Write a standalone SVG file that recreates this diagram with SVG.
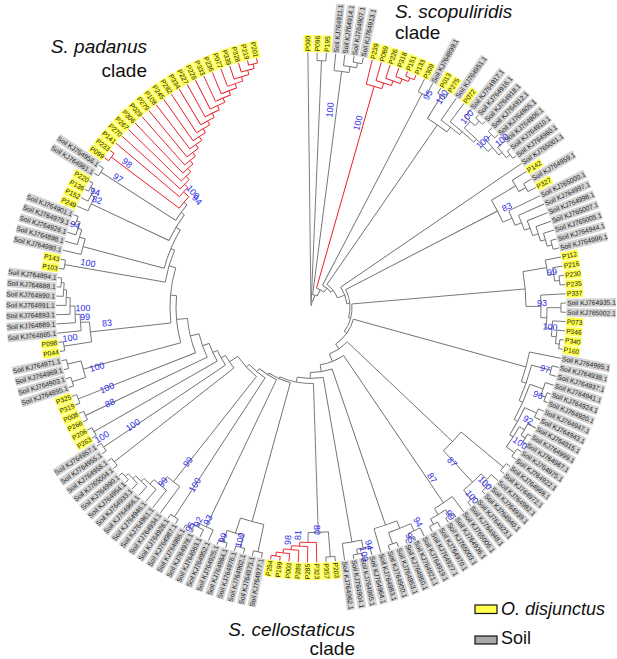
<svg xmlns="http://www.w3.org/2000/svg" xmlns:xlink="http://www.w3.org/1999/xlink" width="617" height="659" viewBox="0 0 617 659">
<style>
.c path,.c circle{fill:none;stroke:#6f6f6f;stroke-width:0.9}
.c .r{stroke:#ea1c24}
.t text{font-family:"Liberation Sans",Arial,sans-serif;font-size:6.7px;fill:#1a1a1a}
.t .e{text-anchor:end}
.b text{font-family:"Liberation Sans",Arial,sans-serif;font-size:9px;fill:#2b2be8;text-anchor:middle;dominant-baseline:central}
.h{font-family:"Liberation Sans",Arial,sans-serif;font-size:19px;fill:#111}
.i{font-style:italic}
</style>
<defs>
<rect id="pR" fill="#ffff4d" x="255.5" y="-4.3" width="17" height="8.6"/>
<rect id="sR" fill="#d4d4d4" x="255.5" y="-4.3" width="49.5" height="8.6"/>
<rect id="pL" fill="#ffff4d" x="-272.5" y="-4.3" width="17" height="8.6"/>
<rect id="sL" fill="#d4d4d4" x="-305" y="-4.3" width="49.5" height="8.6"/>
</defs>
<rect width="617" height="659" fill="#fff"/>
<g id="tree" transform="translate(311 307.5)">
<g id="connectors" class="c">
<path d="M2 0H255" transform="rotate(-90.7)"/>
<circle r="2" pathLength="360" stroke-dasharray="10.73 999" transform="rotate(-90.7)"/>
<path d="M2 0H7" transform="rotate(-79.97)"/>
<circle r="7" pathLength="360" stroke-dasharray="15.2 999" transform="rotate(-87.57)"/>
<path d="M7 0H247" transform="rotate(-87.57)"/>
<path d="M7 0H13" transform="rotate(-72.37)"/>
<circle r="247" pathLength="360" stroke-dasharray="2.08 999" transform="rotate(-88.61)"/>
<path d="M247 0H255" transform="rotate(-88.61)"/>
<path d="M247 0H255" transform="rotate(-86.53)"/>
<circle r="13" pathLength="360" stroke-dasharray="20.5 999" transform="rotate(-82.62)"/>
<path d="M13 0H238" transform="rotate(-82.62)"/>
<path d="M13 0H20" transform="rotate(-62.12)"/>
<circle r="249" pathLength="360" stroke-dasharray="2.09 999" transform="rotate(-80.27)"/>
<path d="M249 0H255" transform="rotate(-80.27)"/>
<path d="M249 0H255" transform="rotate(-78.18)"/>
<circle r="244" pathLength="360" stroke-dasharray="3.13 999" transform="rotate(-82.36)"/>
<path d="M244 0H255" transform="rotate(-82.36)"/>
<path d="M244 0H249" transform="rotate(-79.23)"/>
<circle r="238" pathLength="360" stroke-dasharray="3.64 999" transform="rotate(-84.44)"/>
<path d="M238 0H255" transform="rotate(-84.44)"/>
<path d="M238 0H244" transform="rotate(-80.8)"/>
<circle r="20" pathLength="360" stroke-dasharray="23.93 999" transform="rotate(-74.08)"/>
<path class="r" d="M20 0H230" transform="rotate(-74.08)"/>
<path d="M20 0H25" transform="rotate(-50.15)"/>
<circle class="r" r="250" pathLength="360" stroke-dasharray="2.08 999" transform="rotate(-67.75)"/>
<path class="r" d="M250 0H255" transform="rotate(-67.75)"/>
<path class="r" d="M250 0H255" transform="rotate(-65.67)"/>
<circle class="r" r="246" pathLength="360" stroke-dasharray="3.13 999" transform="rotate(-69.84)"/>
<path class="r" d="M246 0H255" transform="rotate(-69.84)"/>
<path class="r" d="M246 0H250" transform="rotate(-66.71)"/>
<circle class="r" r="241" pathLength="360" stroke-dasharray="3.65 999" transform="rotate(-71.93)"/>
<path class="r" d="M241 0H255" transform="rotate(-71.93)"/>
<path class="r" d="M241 0H246" transform="rotate(-68.28)"/>
<circle class="r" r="236" pathLength="360" stroke-dasharray="3.91 999" transform="rotate(-74.01)"/>
<path class="r" d="M236 0H255" transform="rotate(-74.01)"/>
<path class="r" d="M236 0H241" transform="rotate(-70.1)"/>
<circle class="r" r="230" pathLength="360" stroke-dasharray="4.04 999" transform="rotate(-76.1)"/>
<path class="r" d="M230 0H255" transform="rotate(-76.1)"/>
<path class="r" d="M230 0H236" transform="rotate(-72.06)"/>
<circle r="25" pathLength="360" stroke-dasharray="24.78 999" transform="rotate(-62.54)"/>
<path d="M25 0H241" transform="rotate(-62.54)"/>
<path d="M25 0H28" transform="rotate(-37.76)"/>
<circle r="241" pathLength="360" stroke-dasharray="2.08 999" transform="rotate(-63.58)"/>
<path d="M241 0H255" transform="rotate(-63.58)"/>
<path d="M241 0H255" transform="rotate(-61.5)"/>
<circle r="28" pathLength="360" stroke-dasharray="35.13 999" transform="rotate(-55.32)"/>
<path d="M28 0H222" transform="rotate(-55.32)"/>
<path d="M28 0H36" transform="rotate(-20.19)"/>
<circle r="222" pathLength="360" stroke-dasharray="6.1 999" transform="rotate(-58.37)"/>
<path d="M222 0H249" transform="rotate(-58.37)"/>
<path d="M222 0H228" transform="rotate(-52.27)"/>
<circle r="249" pathLength="360" stroke-dasharray="2.09 999" transform="rotate(-59.41)"/>
<path d="M249 0H255" transform="rotate(-59.41)"/>
<path d="M249 0H255" transform="rotate(-57.32)"/>
<circle r="228" pathLength="360" stroke-dasharray="5.94 999" transform="rotate(-55.24)"/>
<path d="M228 0H255" transform="rotate(-55.24)"/>
<path d="M228 0H232" transform="rotate(-49.3)"/>
<circle r="232" pathLength="360" stroke-dasharray="7.69 999" transform="rotate(-53.15)"/>
<path d="M232 0H255" transform="rotate(-53.15)"/>
<path d="M232 0H236" transform="rotate(-45.46)"/>
<circle r="236" pathLength="360" stroke-dasharray="8.08 999" transform="rotate(-49.5)"/>
<path d="M236 0H245" transform="rotate(-49.5)"/>
<path d="M236 0H242" transform="rotate(-41.42)"/>
<circle r="245" pathLength="360" stroke-dasharray="3.13 999" transform="rotate(-51.07)"/>
<path d="M245 0H255" transform="rotate(-51.07)"/>
<path d="M245 0H251" transform="rotate(-47.94)"/>
<circle r="251" pathLength="360" stroke-dasharray="2.09 999" transform="rotate(-48.98)"/>
<path d="M251 0H255" transform="rotate(-48.98)"/>
<path d="M251 0H255" transform="rotate(-46.89)"/>
<circle r="242" pathLength="360" stroke-dasharray="4.7 999" transform="rotate(-43.77)"/>
<path d="M242 0H250" transform="rotate(-43.77)"/>
<path d="M242 0H246" transform="rotate(-39.07)"/>
<circle r="250" pathLength="360" stroke-dasharray="2.09 999" transform="rotate(-44.81)"/>
<path d="M250 0H255" transform="rotate(-44.81)"/>
<path d="M250 0H255" transform="rotate(-42.72)"/>
<circle r="246" pathLength="360" stroke-dasharray="3.13 999" transform="rotate(-40.64)"/>
<path d="M246 0H255" transform="rotate(-40.64)"/>
<path d="M246 0H251" transform="rotate(-37.51)"/>
<circle r="251" pathLength="360" stroke-dasharray="2.09 999" transform="rotate(-38.55)"/>
<path d="M251 0H255" transform="rotate(-38.55)"/>
<path d="M251 0H255" transform="rotate(-36.46)"/>
<circle r="36" pathLength="360" stroke-dasharray="28.38 999" transform="rotate(-34.38)"/>
<path d="M36 0H255" transform="rotate(-34.38)"/>
<path d="M36 0H39" transform="rotate(-6)"/>
<circle r="39" pathLength="360" stroke-dasharray="42.73 999" transform="rotate(-27.36)"/>
<path d="M39 0H210" transform="rotate(-27.36)"/>
<path d="M39 0H41" transform="rotate(15.37)"/>
<circle r="210" pathLength="360" stroke-dasharray="6.75 999" transform="rotate(-30.73)"/>
<path d="M210 0H238" transform="rotate(-30.73)"/>
<path d="M210 0H220" transform="rotate(-23.98)"/>
<circle r="238" pathLength="360" stroke-dasharray="3.12 999" transform="rotate(-32.29)"/>
<path d="M238 0H255" transform="rotate(-32.29)"/>
<path d="M238 0H246" transform="rotate(-29.17)"/>
<circle r="246" pathLength="360" stroke-dasharray="2.09 999" transform="rotate(-30.21)"/>
<path d="M246 0H255" transform="rotate(-30.21)"/>
<path d="M246 0H255" transform="rotate(-28.12)"/>
<circle r="220" pathLength="360" stroke-dasharray="4.1 999" transform="rotate(-26.03)"/>
<path d="M220 0H255" transform="rotate(-26.03)"/>
<path d="M220 0H227" transform="rotate(-21.93)"/>
<circle r="227" pathLength="360" stroke-dasharray="4.04 999" transform="rotate(-23.95)"/>
<path d="M227 0H255" transform="rotate(-23.95)"/>
<path d="M227 0H233" transform="rotate(-19.91)"/>
<circle r="233" pathLength="360" stroke-dasharray="3.9 999" transform="rotate(-21.86)"/>
<path d="M233 0H255" transform="rotate(-21.86)"/>
<path d="M233 0H239" transform="rotate(-17.96)"/>
<circle r="239" pathLength="360" stroke-dasharray="3.65 999" transform="rotate(-19.78)"/>
<path d="M239 0H255" transform="rotate(-19.78)"/>
<path d="M239 0H244" transform="rotate(-16.13)"/>
<circle r="244" pathLength="360" stroke-dasharray="3.13 999" transform="rotate(-17.69)"/>
<path d="M244 0H255" transform="rotate(-17.69)"/>
<path d="M244 0H249" transform="rotate(-14.56)"/>
<circle r="249" pathLength="360" stroke-dasharray="2.08 999" transform="rotate(-15.6)"/>
<path d="M249 0H255" transform="rotate(-15.6)"/>
<path d="M249 0H255" transform="rotate(-13.52)"/>
<circle r="41" pathLength="360" stroke-dasharray="40.63 999" transform="rotate(-4.95)"/>
<path d="M41 0H215" transform="rotate(-4.95)"/>
<path d="M41 0H44" transform="rotate(35.68)"/>
<circle r="215" pathLength="360" stroke-dasharray="9.32 999" transform="rotate(-9.61)"/>
<path d="M215 0H239" transform="rotate(-9.61)"/>
<path d="M215 0H230" transform="rotate(-0.29)"/>
<circle r="239" pathLength="360" stroke-dasharray="3.64 999" transform="rotate(-11.43)"/>
<path d="M239 0H255" transform="rotate(-11.43)"/>
<path d="M239 0H245" transform="rotate(-7.79)"/>
<circle r="245" pathLength="360" stroke-dasharray="3.13 999" transform="rotate(-9.35)"/>
<path d="M245 0H255" transform="rotate(-9.35)"/>
<path d="M245 0H250" transform="rotate(-6.22)"/>
<circle r="250" pathLength="360" stroke-dasharray="2.09 999" transform="rotate(-7.26)"/>
<path d="M250 0H255" transform="rotate(-7.26)"/>
<path d="M250 0H255" transform="rotate(-5.17)"/>
<circle r="230" pathLength="360" stroke-dasharray="5.61 999" transform="rotate(-3.09)"/>
<path d="M230 0H255" transform="rotate(-3.09)"/>
<path d="M230 0H236" transform="rotate(2.52)"/>
<circle r="236" pathLength="360" stroke-dasharray="4.96 999" transform="rotate(0.04)"/>
<path d="M236 0H250" transform="rotate(0.04)"/>
<path d="M236 0H242" transform="rotate(5)"/>
<circle r="250" pathLength="360" stroke-dasharray="2.08 999" transform="rotate(-1)"/>
<path d="M250 0H255" transform="rotate(-1)"/>
<path d="M250 0H255" transform="rotate(1.08)"/>
<circle r="242" pathLength="360" stroke-dasharray="3.66 999" transform="rotate(3.17)"/>
<path d="M242 0H255" transform="rotate(3.17)"/>
<path d="M242 0H247" transform="rotate(6.83)"/>
<circle r="247" pathLength="360" stroke-dasharray="3.13 999" transform="rotate(5.26)"/>
<path d="M247 0H255" transform="rotate(5.26)"/>
<path d="M247 0H251" transform="rotate(8.39)"/>
<circle r="251" pathLength="360" stroke-dasharray="2.09 999" transform="rotate(7.34)"/>
<path d="M251 0H255" transform="rotate(7.34)"/>
<path d="M251 0H255" transform="rotate(9.43)"/>
<circle r="44" pathLength="360" stroke-dasharray="40.46 999" transform="rotate(15.45)"/>
<path d="M44 0H223" transform="rotate(15.45)"/>
<path d="M44 0H50" transform="rotate(55.91)"/>
<circle r="223" pathLength="360" stroke-dasharray="7.87 999" transform="rotate(11.51)"/>
<path d="M223 0H255" transform="rotate(11.51)"/>
<path d="M223 0H228" transform="rotate(19.38)"/>
<circle r="228" pathLength="360" stroke-dasharray="9.45 999" transform="rotate(14.65)"/>
<path d="M228 0H248" transform="rotate(14.65)"/>
<path d="M228 0H232" transform="rotate(24.1)"/>
<circle r="248" pathLength="360" stroke-dasharray="2.09 999" transform="rotate(13.6)"/>
<path d="M248 0H255" transform="rotate(13.6)"/>
<path d="M248 0H255" transform="rotate(15.69)"/>
<circle r="232" pathLength="360" stroke-dasharray="9.52 999" transform="rotate(19.34)"/>
<path d="M232 0H246" transform="rotate(19.34)"/>
<path d="M232 0H236" transform="rotate(28.86)"/>
<circle r="246" pathLength="360" stroke-dasharray="3.13 999" transform="rotate(17.77)"/>
<path d="M246 0H255" transform="rotate(17.77)"/>
<path d="M246 0H251" transform="rotate(20.9)"/>
<circle r="251" pathLength="360" stroke-dasharray="2.08 999" transform="rotate(19.86)"/>
<path d="M251 0H255" transform="rotate(19.86)"/>
<path d="M251 0H255" transform="rotate(21.94)"/>
<circle r="236" pathLength="360" stroke-dasharray="7.56 999" transform="rotate(25.08)"/>
<path d="M236 0H249" transform="rotate(25.08)"/>
<path d="M236 0H240" transform="rotate(32.64)"/>
<circle r="249" pathLength="360" stroke-dasharray="2.09 999" transform="rotate(24.03)"/>
<path d="M249 0H255" transform="rotate(24.03)"/>
<path d="M249 0H255" transform="rotate(26.12)"/>
<circle r="240" pathLength="360" stroke-dasharray="5.74 999" transform="rotate(29.77)"/>
<path d="M240 0H246" transform="rotate(29.77)"/>
<path d="M240 0H250" transform="rotate(35.51)"/>
<circle r="246" pathLength="360" stroke-dasharray="3.13 999" transform="rotate(28.2)"/>
<path d="M246 0H255" transform="rotate(28.2)"/>
<path d="M246 0H251" transform="rotate(31.33)"/>
<circle r="251" pathLength="360" stroke-dasharray="2.08 999" transform="rotate(30.29)"/>
<path d="M251 0H255" transform="rotate(30.29)"/>
<path d="M251 0H255" transform="rotate(32.37)"/>
<circle r="250" pathLength="360" stroke-dasharray="2.09 999" transform="rotate(34.46)"/>
<path d="M250 0H255" transform="rotate(34.46)"/>
<path d="M250 0H255" transform="rotate(36.55)"/>
<circle r="50" pathLength="360" stroke-dasharray="24.9 999" transform="rotate(43.46)"/>
<path d="M50 0H195" transform="rotate(43.46)"/>
<path d="M50 0H58" transform="rotate(68.36)"/>
<circle r="195" pathLength="360" stroke-dasharray="7.56 999" transform="rotate(39.68)"/>
<path d="M195 0H250" transform="rotate(39.68)"/>
<path d="M195 0H238" transform="rotate(47.24)"/>
<circle r="250" pathLength="360" stroke-dasharray="2.09 999" transform="rotate(38.63)"/>
<path d="M250 0H255" transform="rotate(38.63)"/>
<path d="M250 0H255" transform="rotate(40.72)"/>
<circle r="238" pathLength="360" stroke-dasharray="5.74 999" transform="rotate(44.37)"/>
<path d="M238 0H246" transform="rotate(44.37)"/>
<path d="M238 0H250" transform="rotate(50.11)"/>
<circle r="246" pathLength="360" stroke-dasharray="3.14 999" transform="rotate(42.8)"/>
<path d="M246 0H255" transform="rotate(42.8)"/>
<path d="M246 0H251" transform="rotate(45.94)"/>
<circle r="251" pathLength="360" stroke-dasharray="2.09 999" transform="rotate(44.89)"/>
<path d="M251 0H255" transform="rotate(44.89)"/>
<path d="M251 0H255" transform="rotate(46.98)"/>
<circle r="250" pathLength="360" stroke-dasharray="2.09 999" transform="rotate(49.06)"/>
<path d="M250 0H255" transform="rotate(49.06)"/>
<path d="M250 0H255" transform="rotate(51.15)"/>
<circle r="58" pathLength="360" stroke-dasharray="25.03 999" transform="rotate(55.84)"/>
<path d="M58 0H236" transform="rotate(55.84)"/>
<path d="M58 0H65" transform="rotate(80.87)"/>
<circle r="236" pathLength="360" stroke-dasharray="5.22 999" transform="rotate(53.23)"/>
<path d="M236 0H255" transform="rotate(53.23)"/>
<path d="M236 0H243" transform="rotate(58.45)"/>
<circle r="243" pathLength="360" stroke-dasharray="4.17 999" transform="rotate(56.37)"/>
<path d="M243 0H250" transform="rotate(56.37)"/>
<path d="M243 0H249" transform="rotate(60.54)"/>
<circle r="250" pathLength="360" stroke-dasharray="2.09 999" transform="rotate(55.32)"/>
<path d="M250 0H255" transform="rotate(55.32)"/>
<path d="M250 0H255" transform="rotate(57.41)"/>
<circle r="249" pathLength="360" stroke-dasharray="2.09 999" transform="rotate(59.49)"/>
<path d="M249 0H255" transform="rotate(59.49)"/>
<path d="M249 0H255" transform="rotate(61.58)"/>
<circle r="65" pathLength="360" stroke-dasharray="19.53 999" transform="rotate(71.1)"/>
<path d="M65 0H230" transform="rotate(71.1)"/>
<path d="M65 0H71" transform="rotate(90.63)"/>
<circle r="230" pathLength="360" stroke-dasharray="5.99 999" transform="rotate(68.1)"/>
<path d="M230 0H238" transform="rotate(68.1)"/>
<path d="M230 0H255" transform="rotate(74.09)"/>
<circle r="238" pathLength="360" stroke-dasharray="5.74 999" transform="rotate(65.23)"/>
<path d="M238 0H246" transform="rotate(65.23)"/>
<path d="M238 0H250" transform="rotate(70.97)"/>
<circle r="246" pathLength="360" stroke-dasharray="3.14 999" transform="rotate(63.66)"/>
<path d="M246 0H255" transform="rotate(63.66)"/>
<path d="M246 0H251" transform="rotate(66.8)"/>
<circle r="251" pathLength="360" stroke-dasharray="2.09 999" transform="rotate(65.75)"/>
<path d="M251 0H255" transform="rotate(65.75)"/>
<path d="M251 0H255" transform="rotate(67.84)"/>
<circle r="250" pathLength="360" stroke-dasharray="2.09 999" transform="rotate(69.92)"/>
<path d="M250 0H255" transform="rotate(69.92)"/>
<path d="M250 0H255" transform="rotate(72.01)"/>
<circle r="71" pathLength="360" stroke-dasharray="21.05 999" transform="rotate(80.1)"/>
<path d="M71 0H238" transform="rotate(80.1)"/>
<path d="M71 0H76" transform="rotate(101.15)"/>
<circle r="238" pathLength="360" stroke-dasharray="4.69 999" transform="rotate(77.75)"/>
<path d="M238 0H246" transform="rotate(77.75)"/>
<path d="M238 0H255" transform="rotate(82.44)"/>
<circle r="246" pathLength="360" stroke-dasharray="3.13 999" transform="rotate(76.18)"/>
<path d="M246 0H255" transform="rotate(76.18)"/>
<path d="M246 0H251" transform="rotate(79.31)"/>
<circle r="251" pathLength="360" stroke-dasharray="2.08 999" transform="rotate(78.27)"/>
<path d="M251 0H255" transform="rotate(78.27)"/>
<path d="M251 0H255" transform="rotate(80.35)"/>
<circle r="76" pathLength="360" stroke-dasharray="25.99 999" transform="rotate(88.15)"/>
<path d="M76 0H225" transform="rotate(88.15)"/>
<path d="M76 0H78" transform="rotate(114.14)"/>
<circle r="225" pathLength="360" stroke-dasharray="5.15 999" transform="rotate(85.57)"/>
<path d="M225 0H250" transform="rotate(85.57)"/>
<path d="M225 0H235" transform="rotate(90.72)"/>
<circle r="250" pathLength="360" stroke-dasharray="2.09 999" transform="rotate(84.52)"/>
<path d="M250 0H255" transform="rotate(84.52)"/>
<path d="M250 0H255" transform="rotate(86.61)"/>
<circle class="r" r="235" pathLength="360" stroke-dasharray="4.04 999" transform="rotate(88.7)"/>
<path class="r" d="M235 0H255" transform="rotate(88.7)"/>
<path class="r" d="M235 0H239" transform="rotate(92.74)"/>
<circle class="r" r="239" pathLength="360" stroke-dasharray="3.92 999" transform="rotate(90.78)"/>
<path class="r" d="M239 0H255" transform="rotate(90.78)"/>
<path class="r" d="M239 0H243" transform="rotate(94.7)"/>
<circle class="r" r="243" pathLength="360" stroke-dasharray="3.65 999" transform="rotate(92.87)"/>
<path class="r" d="M243 0H255" transform="rotate(92.87)"/>
<path class="r" d="M243 0H247" transform="rotate(96.52)"/>
<circle class="r" r="247" pathLength="360" stroke-dasharray="3.14 999" transform="rotate(94.95)"/>
<path class="r" d="M247 0H255" transform="rotate(94.95)"/>
<path class="r" d="M247 0H251" transform="rotate(98.09)"/>
<circle class="r" r="251" pathLength="360" stroke-dasharray="2.09 999" transform="rotate(97.04)"/>
<path class="r" d="M251 0H255" transform="rotate(97.04)"/>
<path class="r" d="M251 0H255" transform="rotate(99.13)"/>
<circle r="78" pathLength="360" stroke-dasharray="17.5 999" transform="rotate(105.39)"/>
<path d="M78 0H222" transform="rotate(105.39)"/>
<path d="M78 0H80" transform="rotate(122.89)"/>
<circle r="222" pathLength="360" stroke-dasharray="6.26 999" transform="rotate(102.26)"/>
<path d="M222 0H250" transform="rotate(102.26)"/>
<path d="M222 0H238" transform="rotate(108.52)"/>
<circle r="250" pathLength="360" stroke-dasharray="2.09 999" transform="rotate(101.21)"/>
<path d="M250 0H255" transform="rotate(101.21)"/>
<path d="M250 0H255" transform="rotate(103.3)"/>
<circle r="238" pathLength="360" stroke-dasharray="4.17 999" transform="rotate(106.43)"/>
<path d="M238 0H250" transform="rotate(106.43)"/>
<path d="M238 0H250" transform="rotate(110.6)"/>
<circle r="250" pathLength="360" stroke-dasharray="2.09 999" transform="rotate(105.38)"/>
<path d="M250 0H255" transform="rotate(105.38)"/>
<path d="M250 0H255" transform="rotate(107.47)"/>
<circle r="250" pathLength="360" stroke-dasharray="2.08 999" transform="rotate(109.56)"/>
<path d="M250 0H255" transform="rotate(109.56)"/>
<path d="M250 0H255" transform="rotate(111.64)"/>
<circle r="80" pathLength="360" stroke-dasharray="14.66 999" transform="rotate(115.56)"/>
<path d="M80 0H243" transform="rotate(115.56)"/>
<path d="M80 0H84" transform="rotate(130.22)"/>
<circle r="243" pathLength="360" stroke-dasharray="3.65 999" transform="rotate(113.73)"/>
<path d="M243 0H255" transform="rotate(113.73)"/>
<path d="M243 0H247" transform="rotate(117.38)"/>
<circle r="247" pathLength="360" stroke-dasharray="3.14 999" transform="rotate(115.81)"/>
<path d="M247 0H255" transform="rotate(115.81)"/>
<path d="M247 0H251" transform="rotate(118.95)"/>
<circle r="251" pathLength="360" stroke-dasharray="2.09 999" transform="rotate(117.9)"/>
<path d="M251 0H255" transform="rotate(117.9)"/>
<path d="M251 0H255" transform="rotate(119.99)"/>
<circle r="84" pathLength="360" stroke-dasharray="14.19 999" transform="rotate(123.12)"/>
<path d="M84 0H250" transform="rotate(123.12)"/>
<path d="M84 0H88" transform="rotate(137.31)"/>
<circle r="250" pathLength="360" stroke-dasharray="2.09 999" transform="rotate(122.07)"/>
<path d="M250 0H255" transform="rotate(122.07)"/>
<path d="M250 0H255" transform="rotate(124.16)"/>
<circle r="88" pathLength="360" stroke-dasharray="18.02 999" transform="rotate(128.3)"/>
<path d="M88 0H222" transform="rotate(128.3)"/>
<path d="M88 0H98" transform="rotate(146.32)"/>
<circle r="222" pathLength="360" stroke-dasharray="4.11 999" transform="rotate(126.24)"/>
<path d="M222 0H255" transform="rotate(126.24)"/>
<path d="M222 0H233" transform="rotate(130.35)"/>
<circle r="233" pathLength="360" stroke-dasharray="4.04 999" transform="rotate(128.33)"/>
<path d="M233 0H255" transform="rotate(128.33)"/>
<path d="M233 0H239" transform="rotate(132.37)"/>
<circle r="239" pathLength="360" stroke-dasharray="3.91 999" transform="rotate(130.42)"/>
<path d="M239 0H255" transform="rotate(130.42)"/>
<path d="M239 0H243" transform="rotate(134.33)"/>
<circle r="243" pathLength="360" stroke-dasharray="3.65 999" transform="rotate(132.5)"/>
<path d="M243 0H255" transform="rotate(132.5)"/>
<path d="M243 0H247" transform="rotate(136.15)"/>
<circle r="247" pathLength="360" stroke-dasharray="3.13 999" transform="rotate(134.59)"/>
<path d="M247 0H255" transform="rotate(134.59)"/>
<path d="M247 0H251" transform="rotate(137.72)"/>
<circle r="251" pathLength="360" stroke-dasharray="2.09 999" transform="rotate(136.67)"/>
<path d="M251 0H255" transform="rotate(136.67)"/>
<path d="M251 0H255" transform="rotate(138.76)"/>
<circle r="98" pathLength="360" stroke-dasharray="8.85 999" transform="rotate(141.89)"/>
<path d="M98 0H250" transform="rotate(141.89)"/>
<path d="M98 0H103" transform="rotate(150.74)"/>
<circle r="250" pathLength="360" stroke-dasharray="2.08 999" transform="rotate(140.85)"/>
<path d="M250 0H255" transform="rotate(140.85)"/>
<path d="M250 0H255" transform="rotate(142.93)"/>
<circle r="103" pathLength="360" stroke-dasharray="9.36 999" transform="rotate(146.06)"/>
<path d="M103 0H250" transform="rotate(146.06)"/>
<path d="M103 0H108" transform="rotate(155.42)"/>
<circle r="250" pathLength="360" stroke-dasharray="2.08 999" transform="rotate(145.02)"/>
<path d="M250 0H255" transform="rotate(145.02)"/>
<path d="M250 0H255" transform="rotate(147.1)"/>
<circle r="108" pathLength="360" stroke-dasharray="10.35 999" transform="rotate(150.24)"/>
<path d="M108 0H250" transform="rotate(150.24)"/>
<path d="M108 0H115" transform="rotate(160.59)"/>
<circle r="250" pathLength="360" stroke-dasharray="2.09 999" transform="rotate(149.19)"/>
<path d="M250 0H255" transform="rotate(149.19)"/>
<path d="M250 0H255" transform="rotate(151.28)"/>
<circle r="115" pathLength="360" stroke-dasharray="12.35 999" transform="rotate(154.41)"/>
<path d="M115 0H250" transform="rotate(154.41)"/>
<path d="M115 0H124" transform="rotate(166.76)"/>
<circle r="250" pathLength="360" stroke-dasharray="2.09 999" transform="rotate(153.36)"/>
<path d="M250 0H255" transform="rotate(153.36)"/>
<path d="M250 0H255" transform="rotate(155.45)"/>
<circle r="124" pathLength="360" stroke-dasharray="16.36 999" transform="rotate(158.58)"/>
<path d="M124 0H250" transform="rotate(158.58)"/>
<path d="M124 0H135" transform="rotate(174.94)"/>
<circle r="250" pathLength="360" stroke-dasharray="2.09 999" transform="rotate(157.53)"/>
<path d="M250 0H255" transform="rotate(157.53)"/>
<path d="M250 0H255" transform="rotate(159.62)"/>
<circle r="135" pathLength="360" stroke-dasharray="20.19 999" transform="rotate(164.84)"/>
<path d="M135 0H236" transform="rotate(164.84)"/>
<path d="M135 0H141" transform="rotate(185.03)"/>
<circle r="236" pathLength="360" stroke-dasharray="4.17 999" transform="rotate(162.75)"/>
<path d="M236 0H250" transform="rotate(162.75)"/>
<path d="M236 0H250" transform="rotate(166.92)"/>
<circle r="250" pathLength="360" stroke-dasharray="2.08 999" transform="rotate(161.71)"/>
<path d="M250 0H255" transform="rotate(161.71)"/>
<path d="M250 0H255" transform="rotate(163.79)"/>
<circle r="250" pathLength="360" stroke-dasharray="2.08 999" transform="rotate(165.88)"/>
<path d="M250 0H255" transform="rotate(165.88)"/>
<path d="M250 0H255" transform="rotate(167.96)"/>
<circle r="141" pathLength="360" stroke-dasharray="22.67 999" transform="rotate(173.69)"/>
<path d="M141 0H222" transform="rotate(173.69)"/>
<path d="M141 0H148" transform="rotate(196.36)"/>
<circle r="222" pathLength="360" stroke-dasharray="5.18 999" transform="rotate(171.1)"/>
<path d="M222 0H250" transform="rotate(171.1)"/>
<path d="M222 0H231" transform="rotate(176.28)"/>
<circle r="250" pathLength="360" stroke-dasharray="2.09 999" transform="rotate(170.05)"/>
<path d="M250 0H255" transform="rotate(170.05)"/>
<path d="M250 0H255" transform="rotate(172.14)"/>
<circle r="231" pathLength="360" stroke-dasharray="4.11 999" transform="rotate(174.22)"/>
<path d="M231 0H255" transform="rotate(174.22)"/>
<path d="M231 0H236" transform="rotate(178.33)"/>
<circle r="236" pathLength="360" stroke-dasharray="4.04 999" transform="rotate(176.31)"/>
<path d="M236 0H255" transform="rotate(176.31)"/>
<path d="M236 0H241" transform="rotate(180.35)"/>
<circle r="241" pathLength="360" stroke-dasharray="3.92 999" transform="rotate(178.39)"/>
<path d="M241 0H255" transform="rotate(178.39)"/>
<path d="M241 0H245" transform="rotate(182.31)"/>
<circle r="245" pathLength="360" stroke-dasharray="3.65 999" transform="rotate(180.48)"/>
<path d="M245 0H255" transform="rotate(180.48)"/>
<path d="M245 0H248" transform="rotate(184.13)"/>
<circle r="248" pathLength="360" stroke-dasharray="3.13 999" transform="rotate(182.57)"/>
<path d="M248 0H255" transform="rotate(182.57)"/>
<path d="M248 0H251" transform="rotate(185.7)"/>
<circle r="251" pathLength="360" stroke-dasharray="2.09 999" transform="rotate(184.65)"/>
<path d="M251 0H255" transform="rotate(184.65)"/>
<path d="M251 0H255" transform="rotate(186.74)"/>
<circle r="148" pathLength="360" stroke-dasharray="12.97 999" transform="rotate(189.87)"/>
<path d="M148 0H250" transform="rotate(189.87)"/>
<path d="M148 0H152" transform="rotate(202.84)"/>
<circle r="250" pathLength="360" stroke-dasharray="2.09 999" transform="rotate(188.82)"/>
<path d="M250 0H255" transform="rotate(188.82)"/>
<path d="M250 0H255" transform="rotate(190.91)"/>
<circle r="152" pathLength="360" stroke-dasharray="15.78 999" transform="rotate(194.95)"/>
<path d="M152 0H236" transform="rotate(194.95)"/>
<path d="M152 0H157" transform="rotate(210.73)"/>
<circle r="236" pathLength="360" stroke-dasharray="3.91 999" transform="rotate(193)"/>
<path d="M236 0H255" transform="rotate(193)"/>
<path d="M236 0H242" transform="rotate(196.91)"/>
<circle r="242" pathLength="360" stroke-dasharray="3.65 999" transform="rotate(195.08)"/>
<path d="M242 0H255" transform="rotate(195.08)"/>
<path d="M242 0H246" transform="rotate(198.73)"/>
<circle r="246" pathLength="360" stroke-dasharray="3.13 999" transform="rotate(197.17)"/>
<path d="M246 0H255" transform="rotate(197.17)"/>
<path d="M246 0H250" transform="rotate(200.3)"/>
<circle r="250" pathLength="360" stroke-dasharray="2.09 999" transform="rotate(199.25)"/>
<path d="M250 0H255" transform="rotate(199.25)"/>
<path d="M250 0H255" transform="rotate(201.34)"/>
<circle r="157" pathLength="360" stroke-dasharray="10.96 999" transform="rotate(205.25)"/>
<path d="M157 0H243" transform="rotate(205.25)"/>
<path d="M157 0H161" transform="rotate(216.21)"/>
<circle r="243" pathLength="360" stroke-dasharray="3.65 999" transform="rotate(203.43)"/>
<path d="M243 0H255" transform="rotate(203.43)"/>
<path d="M243 0H247" transform="rotate(207.08)"/>
<circle r="247" pathLength="360" stroke-dasharray="3.13 999" transform="rotate(205.51)"/>
<path d="M247 0H255" transform="rotate(205.51)"/>
<path d="M247 0H251" transform="rotate(208.64)"/>
<circle r="251" pathLength="360" stroke-dasharray="2.08 999" transform="rotate(207.6)"/>
<path d="M251 0H255" transform="rotate(207.6)"/>
<path d="M251 0H255" transform="rotate(209.68)"/>
<circle r="161" pathLength="360" stroke-dasharray="6.79 999" transform="rotate(212.81)"/>
<path d="M161 0H250" transform="rotate(212.81)"/>
<path d="M161 0H165" transform="rotate(219.6)"/>
<circle r="250" pathLength="360" stroke-dasharray="2.09 999" transform="rotate(211.77)"/>
<path d="M250 0H255" transform="rotate(211.77)"/>
<path d="M250 0H255" transform="rotate(213.86)"/>
<circle class="r" r="165" pathLength="360" stroke-dasharray="5.21 999" transform="rotate(216.99)"/>
<path class="r" d="M165 0H250" transform="rotate(216.99)"/>
<path class="r" d="M165 0H172" transform="rotate(222.2)"/>
<circle class="r" r="250" pathLength="360" stroke-dasharray="2.09 999" transform="rotate(215.94)"/>
<path class="r" d="M250 0H255" transform="rotate(215.94)"/>
<path class="r" d="M250 0H255" transform="rotate(218.03)"/>
<circle class="r" r="172" pathLength="360" stroke-dasharray="4.18 999" transform="rotate(220.11)"/>
<path class="r" d="M172 0H255" transform="rotate(220.11)"/>
<path class="r" d="M172 0H176.6" transform="rotate(224.29)"/>
<circle class="r" r="176.6" pathLength="360" stroke-dasharray="4.18 999" transform="rotate(222.2)"/>
<path class="r" d="M176.6 0H255" transform="rotate(222.2)"/>
<path class="r" d="M176.6 0H181.2" transform="rotate(226.38)"/>
<circle class="r" r="181.2" pathLength="360" stroke-dasharray="4.17 999" transform="rotate(224.29)"/>
<path class="r" d="M181.2 0H255" transform="rotate(224.29)"/>
<path class="r" d="M181.2 0H185.8" transform="rotate(228.46)"/>
<circle class="r" r="185.8" pathLength="360" stroke-dasharray="4.18 999" transform="rotate(226.37)"/>
<path class="r" d="M185.8 0H255" transform="rotate(226.37)"/>
<path class="r" d="M185.8 0H190.4" transform="rotate(230.55)"/>
<circle class="r" r="190.4" pathLength="360" stroke-dasharray="4.17 999" transform="rotate(228.46)"/>
<path class="r" d="M190.4 0H255" transform="rotate(228.46)"/>
<path class="r" d="M190.4 0H195" transform="rotate(232.63)"/>
<circle class="r" r="195" pathLength="360" stroke-dasharray="4.18 999" transform="rotate(230.54)"/>
<path class="r" d="M195 0H255" transform="rotate(230.54)"/>
<path class="r" d="M195 0H199.6" transform="rotate(234.72)"/>
<circle class="r" r="199.6" pathLength="360" stroke-dasharray="4.18 999" transform="rotate(232.63)"/>
<path class="r" d="M199.6 0H255" transform="rotate(232.63)"/>
<path class="r" d="M199.6 0H204.2" transform="rotate(236.81)"/>
<circle class="r" r="204.2" pathLength="360" stroke-dasharray="4.17 999" transform="rotate(234.72)"/>
<path class="r" d="M204.2 0H255" transform="rotate(234.72)"/>
<path class="r" d="M204.2 0H208.8" transform="rotate(238.89)"/>
<circle class="r" r="208.8" pathLength="360" stroke-dasharray="4.18 999" transform="rotate(236.8)"/>
<path class="r" d="M208.8 0H255" transform="rotate(236.8)"/>
<path class="r" d="M208.8 0H213.4" transform="rotate(240.98)"/>
<circle class="r" r="213.4" pathLength="360" stroke-dasharray="4.17 999" transform="rotate(238.89)"/>
<path class="r" d="M213.4 0H255" transform="rotate(238.89)"/>
<path class="r" d="M213.4 0H218" transform="rotate(243.06)"/>
<circle class="r" r="218" pathLength="360" stroke-dasharray="4.17 999" transform="rotate(240.97)"/>
<path class="r" d="M218 0H255" transform="rotate(240.97)"/>
<path class="r" d="M218 0H222.6" transform="rotate(245.14)"/>
<circle class="r" r="222.6" pathLength="360" stroke-dasharray="4.15 999" transform="rotate(243.06)"/>
<path class="r" d="M222.6 0H255" transform="rotate(243.06)"/>
<path class="r" d="M222.6 0H227.2" transform="rotate(247.21)"/>
<circle class="r" r="227.2" pathLength="360" stroke-dasharray="4.11 999" transform="rotate(245.15)"/>
<path class="r" d="M227.2 0H255" transform="rotate(245.15)"/>
<path class="r" d="M227.2 0H231.8" transform="rotate(249.26)"/>
<circle class="r" r="231.8" pathLength="360" stroke-dasharray="4.05 999" transform="rotate(247.23)"/>
<path class="r" d="M231.8 0H255" transform="rotate(247.23)"/>
<path class="r" d="M231.8 0H236.4" transform="rotate(251.28)"/>
<circle class="r" r="236.4" pathLength="360" stroke-dasharray="3.91 999" transform="rotate(249.32)"/>
<path class="r" d="M236.4 0H255" transform="rotate(249.32)"/>
<path class="r" d="M236.4 0H241" transform="rotate(253.23)"/>
<circle class="r" r="241" pathLength="360" stroke-dasharray="3.66 999" transform="rotate(251.4)"/>
<path class="r" d="M241 0H255" transform="rotate(251.4)"/>
<path class="r" d="M241 0H245.6" transform="rotate(255.06)"/>
<circle class="r" r="245.6" pathLength="360" stroke-dasharray="3.13 999" transform="rotate(253.49)"/>
<path class="r" d="M245.6 0H255" transform="rotate(253.49)"/>
<path class="r" d="M245.6 0H250.2" transform="rotate(256.62)"/>
<circle class="r" r="250.2" pathLength="360" stroke-dasharray="2.08 999" transform="rotate(255.58)"/>
<path class="r" d="M250.2 0H255" transform="rotate(255.58)"/>
<path class="r" d="M250.2 0H255" transform="rotate(257.66)"/>
</g>
<g id="tips" class="t">
<g id="tip1" transform="rotate(-90.7)"><use href="#pR"/><text x="256.2" y="2.4">P090</text></g>
<g id="tip2" transform="rotate(-88.61)"><use href="#pR"/><text x="256.2" y="2.4">P096</text></g>
<g id="tip3" transform="rotate(-86.53)"><use href="#pR"/><text x="256.2" y="2.4">P195</text></g>
<g id="tip4" transform="rotate(-84.44)"><use href="#sR"/><text x="256.2" y="2.4">Soil KJ764911.1</text></g>
<g id="tip5" transform="rotate(-82.36)"><use href="#sR"/><text x="256.2" y="2.4">Soil KJ764914.1</text></g>
<g id="tip6" transform="rotate(-80.27)"><use href="#sR"/><text x="256.2" y="2.4">Soil KJ764907.1</text></g>
<g id="tip7" transform="rotate(-78.18)"><use href="#sR"/><text x="256.2" y="2.4">Soil KJ764913.1</text></g>
<g id="tip8" transform="rotate(-76.1)"><use href="#pR"/><text x="256.2" y="2.4">P239</text></g>
<g id="tip9" transform="rotate(-74.01)"><use href="#pR"/><text x="256.2" y="2.4">P069</text></g>
<g id="tip10" transform="rotate(-71.93)"><use href="#pR"/><text x="256.2" y="2.4">P226</text></g>
<g id="tip11" transform="rotate(-69.84)"><use href="#pR"/><text x="256.2" y="2.4">P318</text></g>
<g id="tip12" transform="rotate(-67.75)"><use href="#pR"/><text x="256.2" y="2.4">P151</text></g>
<g id="tip13" transform="rotate(-65.67)"><use href="#pR"/><text x="256.2" y="2.4">P133</text></g>
<g id="tip14" transform="rotate(-63.58)"><use href="#pR"/><text x="256.2" y="2.4">P309</text></g>
<g id="tip15" transform="rotate(-61.5)"><use href="#sR"/><text x="256.2" y="2.4">Soil KJ764899.1</text></g>
<g id="tip16" transform="rotate(-59.41)"><use href="#pR"/><text x="256.2" y="2.4">P013</text></g>
<g id="tip17" transform="rotate(-57.32)"><use href="#pR"/><text x="256.2" y="2.4">P275</text></g>
<g id="tip18" transform="rotate(-55.24)"><use href="#sR"/><text x="256.2" y="2.4">Soil KJ764951.1</text></g>
<g id="tip19" transform="rotate(-53.15)"><use href="#pR"/><text x="256.2" y="2.4">P072</text></g>
<g id="tip20" transform="rotate(-51.07)"><use href="#sR"/><text x="256.2" y="2.4">Soil KJ764917.1</text></g>
<g id="tip21" transform="rotate(-48.98)"><use href="#sR"/><text x="256.2" y="2.4">Soil KJ764916.1</text></g>
<g id="tip22" transform="rotate(-46.89)"><use href="#sR"/><text x="256.2" y="2.4">Soil KJ764918.1</text></g>
<g id="tip23" transform="rotate(-44.81)"><use href="#sR"/><text x="256.2" y="2.4">Soil KJ764912.1</text></g>
<g id="tip24" transform="rotate(-42.72)"><use href="#sR"/><text x="256.2" y="2.4">Soil KJ764905.1</text></g>
<g id="tip25" transform="rotate(-40.64)"><use href="#sR"/><text x="256.2" y="2.4">Soil KJ764906.1</text></g>
<g id="tip26" transform="rotate(-38.55)"><use href="#sR"/><text x="256.2" y="2.4">Soil KJ764910.1</text></g>
<g id="tip27" transform="rotate(-36.46)"><use href="#sR"/><text x="256.2" y="2.4">Soil KJ764960.1</text></g>
<g id="tip28" transform="rotate(-34.38)"><use href="#sR"/><text x="256.2" y="2.4">Soil KJ765001.1</text></g>
<g id="tip29" transform="rotate(-32.29)"><use href="#pR"/><text x="256.2" y="2.4">P142</text></g>
<g id="tip30" transform="rotate(-30.21)"><use href="#sR"/><text x="256.2" y="2.4">Soil KJ764959.1</text></g>
<g id="tip31" transform="rotate(-28.12)"><use href="#pR"/><text x="256.2" y="2.4">P327</text></g>
<g id="tip32" transform="rotate(-26.03)"><use href="#sR"/><text x="256.2" y="2.4">Soil KJ765000.1</text></g>
<g id="tip33" transform="rotate(-23.95)"><use href="#sR"/><text x="256.2" y="2.4">Soil KJ764997.1</text></g>
<g id="tip34" transform="rotate(-21.86)"><use href="#sR"/><text x="256.2" y="2.4">Soil KJ764998.1</text></g>
<g id="tip35" transform="rotate(-19.78)"><use href="#sR"/><text x="256.2" y="2.4">Soil KJ765007.1</text></g>
<g id="tip36" transform="rotate(-17.69)"><use href="#sR"/><text x="256.2" y="2.4">Soil KJ765005.1</text></g>
<g id="tip37" transform="rotate(-15.6)"><use href="#sR"/><text x="256.2" y="2.4">Soil KJ764944.1</text></g>
<g id="tip38" transform="rotate(-13.52)"><use href="#sR"/><text x="256.2" y="2.4">Soil KJ764996.1</text></g>
<g id="tip39" transform="rotate(-11.43)"><use href="#pR"/><text x="256.2" y="2.4">P112</text></g>
<g id="tip40" transform="rotate(-9.35)"><use href="#pR"/><text x="256.2" y="2.4">P216</text></g>
<g id="tip41" transform="rotate(-7.26)"><use href="#pR"/><text x="256.2" y="2.4">P230</text></g>
<g id="tip42" transform="rotate(-5.17)"><use href="#pR"/><text x="256.2" y="2.4">P235</text></g>
<g id="tip43" transform="rotate(-3.09)"><use href="#pR"/><text x="256.2" y="2.4">P337</text></g>
<g id="tip44" transform="rotate(-1)"><use href="#sR"/><text x="256.2" y="2.4">Soil KJ764935.1</text></g>
<g id="tip45" transform="rotate(1.08)"><use href="#sR"/><text x="256.2" y="2.4">Soil KJ765002.1</text></g>
<g id="tip46" transform="rotate(3.17)"><use href="#pR"/><text x="256.2" y="2.4">P073</text></g>
<g id="tip47" transform="rotate(5.26)"><use href="#pR"/><text x="256.2" y="2.4">P346</text></g>
<g id="tip48" transform="rotate(7.34)"><use href="#pR"/><text x="256.2" y="2.4">P340</text></g>
<g id="tip49" transform="rotate(9.43)"><use href="#pR"/><text x="256.2" y="2.4">P160</text></g>
<g id="tip50" transform="rotate(11.51)"><use href="#sR"/><text x="256.2" y="2.4">Soil KJ764995.1</text></g>
<g id="tip51" transform="rotate(13.6)"><use href="#sR"/><text x="256.2" y="2.4">Soil KJ764938.1</text></g>
<g id="tip52" transform="rotate(15.69)"><use href="#sR"/><text x="256.2" y="2.4">Soil KJ764937.1</text></g>
<g id="tip53" transform="rotate(17.77)"><use href="#sR"/><text x="256.2" y="2.4">Soil KJ764941.1</text></g>
<g id="tip54" transform="rotate(19.86)"><use href="#sR"/><text x="256.2" y="2.4">Soil KJ764924.1</text></g>
<g id="tip55" transform="rotate(21.94)"><use href="#sR"/><text x="256.2" y="2.4">Soil KJ764920.1</text></g>
<g id="tip56" transform="rotate(24.03)"><use href="#sR"/><text x="256.2" y="2.4">Soil KJ764947.1</text></g>
<g id="tip57" transform="rotate(26.12)"><use href="#sR"/><text x="256.2" y="2.4">Soil KJ764943.1</text></g>
<g id="tip58" transform="rotate(28.2)"><use href="#sR"/><text x="256.2" y="2.4">Soil KJ764915.1</text></g>
<g id="tip59" transform="rotate(30.29)"><use href="#sR"/><text x="256.2" y="2.4">Soil KJ764999.1</text></g>
<g id="tip60" transform="rotate(32.37)"><use href="#sR"/><text x="256.2" y="2.4">Soil KJ764967.1</text></g>
<g id="tip61" transform="rotate(34.46)"><use href="#sR"/><text x="256.2" y="2.4">Soil KJ764975.1</text></g>
<g id="tip62" transform="rotate(36.55)"><use href="#sR"/><text x="256.2" y="2.4">Soil KJ764922.1</text></g>
<g id="tip63" transform="rotate(38.63)"><use href="#sR"/><text x="256.2" y="2.4">Soil KJ764968.1</text></g>
<g id="tip64" transform="rotate(40.72)"><use href="#sR"/><text x="256.2" y="2.4">Soil KJ764972.1</text></g>
<g id="tip65" transform="rotate(42.8)"><use href="#sR"/><text x="256.2" y="2.4">Soil KJ764982.1</text></g>
<g id="tip66" transform="rotate(44.89)"><use href="#sR"/><text x="256.2" y="2.4">Soil KJ764939.1</text></g>
<g id="tip67" transform="rotate(46.98)"><use href="#sR"/><text x="256.2" y="2.4">Soil KJ764940.1</text></g>
<g id="tip68" transform="rotate(49.06)"><use href="#sR"/><text x="256.2" y="2.4">Soil KJ764923.1</text></g>
<g id="tip69" transform="rotate(51.15)"><use href="#sR"/><text x="256.2" y="2.4">Soil KJ764948.1</text></g>
<g id="tip70" transform="rotate(53.23)"><use href="#sR"/><text x="256.2" y="2.4">Soil KJ765006.1</text></g>
<g id="tip71" transform="rotate(55.32)"><use href="#sR"/><text x="256.2" y="2.4">Soil KJ764936.1</text></g>
<g id="tip72" transform="rotate(57.41)"><use href="#sR"/><text x="256.2" y="2.4">Soil KJ765003.1</text></g>
<g id="tip73" transform="rotate(59.49)"><use href="#sR"/><text x="256.2" y="2.4">Soil KJ764970.1</text></g>
<g id="tip74" transform="rotate(61.58)"><use href="#sR"/><text x="256.2" y="2.4">Soil KJ764927.1</text></g>
<g id="tip75" transform="rotate(63.66)"><use href="#sR"/><text x="256.2" y="2.4">Soil KJ764919.1</text></g>
<g id="tip76" transform="rotate(65.75)"><use href="#sR"/><text x="256.2" y="2.4">Soil KJ764921.1</text></g>
<g id="tip77" transform="rotate(67.84)"><use href="#sR"/><text x="256.2" y="2.4">Soil KJ764950.1</text></g>
<g id="tip78" transform="rotate(69.92)"><use href="#sR"/><text x="256.2" y="2.4">Soil KJ764953.1</text></g>
<g id="tip79" transform="rotate(72.01)"><use href="#sR"/><text x="256.2" y="2.4">Soil KJ764900.1</text></g>
<g id="tip80" transform="rotate(74.09)"><use href="#sR"/><text x="256.2" y="2.4">Soil KJ764983.1</text></g>
<g id="tip81" transform="rotate(76.18)"><use href="#sR"/><text x="256.2" y="2.4">Soil KJ764964.1</text></g>
<g id="tip82" transform="rotate(78.27)"><use href="#sR"/><text x="256.2" y="2.4">Soil KJ764965.1</text></g>
<g id="tip83" transform="rotate(80.35)"><use href="#sR"/><text x="256.2" y="2.4">Soil KJ764904.1</text></g>
<g id="tip84" transform="rotate(82.44)"><use href="#sR"/><text x="256.2" y="2.4">Soil KJ764962.1</text></g>
<g id="tip85" transform="rotate(84.52)"><use href="#pR"/><text x="256.2" y="2.4">P203</text></g>
<g id="tip86" transform="rotate(86.61)"><use href="#pR"/><text x="256.2" y="2.4">P357</text></g>
<g id="tip87" transform="rotate(88.7)"><use href="#pR"/><text x="256.2" y="2.4">P323</text></g>
<g id="tip88" transform="rotate(-89.22)"><use href="#pL"/><text class="e" x="-256.2" y="2.4">P285</text></g>
<g id="tip89" transform="rotate(-87.13)"><use href="#pL"/><text class="e" x="-256.2" y="2.4">P289</text></g>
<g id="tip90" transform="rotate(-85.05)"><use href="#pL"/><text class="e" x="-256.2" y="2.4">P003</text></g>
<g id="tip91" transform="rotate(-82.96)"><use href="#pL"/><text class="e" x="-256.2" y="2.4">P199</text></g>
<g id="tip92" transform="rotate(-80.87)"><use href="#pL"/><text class="e" x="-256.2" y="2.4">P254</text></g>
<g id="tip93" transform="rotate(-78.79)"><use href="#sL"/><text class="e" x="-256.2" y="2.4">Soil KJ764977.1</text></g>
<g id="tip94" transform="rotate(-76.7)"><use href="#sL"/><text class="e" x="-256.2" y="2.4">Soil KJ764973.1</text></g>
<g id="tip95" transform="rotate(-74.62)"><use href="#sL"/><text class="e" x="-256.2" y="2.4">Soil KJ764902.1</text></g>
<g id="tip96" transform="rotate(-72.53)"><use href="#sL"/><text class="e" x="-256.2" y="2.4">Soil KJ764976.1</text></g>
<g id="tip97" transform="rotate(-70.44)"><use href="#sL"/><text class="e" x="-256.2" y="2.4">Soil KJ764984.1</text></g>
<g id="tip98" transform="rotate(-68.36)"><use href="#sL"/><text class="e" x="-256.2" y="2.4">Soil KJ764925.1</text></g>
<g id="tip99" transform="rotate(-66.27)"><use href="#sL"/><text class="e" x="-256.2" y="2.4">Soil KJ764952.1</text></g>
<g id="tip100" transform="rotate(-64.19)"><use href="#sL"/><text class="e" x="-256.2" y="2.4">Soil KJ764963.1</text></g>
<g id="tip101" transform="rotate(-62.1)"><use href="#sL"/><text class="e" x="-256.2" y="2.4">Soil KJ764978.1</text></g>
<g id="tip102" transform="rotate(-60.01)"><use href="#sL"/><text class="e" x="-256.2" y="2.4">Soil KJ764986.1</text></g>
<g id="tip103" transform="rotate(-57.93)"><use href="#sL"/><text class="e" x="-256.2" y="2.4">Soil KJ764987.1</text></g>
<g id="tip104" transform="rotate(-55.84)"><use href="#sL"/><text class="e" x="-256.2" y="2.4">Soil KJ764928.1</text></g>
<g id="tip105" transform="rotate(-53.76)"><use href="#sL"/><text class="e" x="-256.2" y="2.4">Soil KJ764934.1</text></g>
<g id="tip106" transform="rotate(-51.67)"><use href="#sL"/><text class="e" x="-256.2" y="2.4">Soil KJ764961.1</text></g>
<g id="tip107" transform="rotate(-49.58)"><use href="#sL"/><text class="e" x="-256.2" y="2.4">Soil KJ764946.1</text></g>
<g id="tip108" transform="rotate(-47.5)"><use href="#sL"/><text class="e" x="-256.2" y="2.4">Soil KJ764966.1</text></g>
<g id="tip109" transform="rotate(-45.41)"><use href="#sL"/><text class="e" x="-256.2" y="2.4">Soil KJ764933.1</text></g>
<g id="tip110" transform="rotate(-43.33)"><use href="#sL"/><text class="e" x="-256.2" y="2.4">Soil KJ764954.1</text></g>
<g id="tip111" transform="rotate(-41.24)"><use href="#sL"/><text class="e" x="-256.2" y="2.4">Soil KJ764990.1</text></g>
<g id="tip112" transform="rotate(-39.15)"><use href="#sL"/><text class="e" x="-256.2" y="2.4">Soil KJ765004.1</text></g>
<g id="tip113" transform="rotate(-37.07)"><use href="#sL"/><text class="e" x="-256.2" y="2.4">Soil KJ764958.1</text></g>
<g id="tip114" transform="rotate(-34.98)"><use href="#sL"/><text class="e" x="-256.2" y="2.4">Soil KJ764955.1</text></g>
<g id="tip115" transform="rotate(-32.9)"><use href="#sL"/><text class="e" x="-256.2" y="2.4">Soil KJ764957.1</text></g>
<g id="tip116" transform="rotate(-30.81)"><use href="#pL"/><text class="e" x="-256.2" y="2.4">P263</text></g>
<g id="tip117" transform="rotate(-28.72)"><use href="#pL"/><text class="e" x="-256.2" y="2.4">P206</text></g>
<g id="tip118" transform="rotate(-26.64)"><use href="#pL"/><text class="e" x="-256.2" y="2.4">P266</text></g>
<g id="tip119" transform="rotate(-24.55)"><use href="#pL"/><text class="e" x="-256.2" y="2.4">P008</text></g>
<g id="tip120" transform="rotate(-22.47)"><use href="#pL"/><text class="e" x="-256.2" y="2.4">P319</text></g>
<g id="tip121" transform="rotate(-20.38)"><use href="#pL"/><text class="e" x="-256.2" y="2.4">P325</text></g>
<g id="tip122" transform="rotate(-18.29)"><use href="#sL"/><text class="e" x="-256.2" y="2.4">Soil KJ764895.1</text></g>
<g id="tip123" transform="rotate(-16.21)"><use href="#sL"/><text class="e" x="-256.2" y="2.4">Soil KJ764903.1</text></g>
<g id="tip124" transform="rotate(-14.12)"><use href="#sL"/><text class="e" x="-256.2" y="2.4">Soil KJ764969.1</text></g>
<g id="tip125" transform="rotate(-12.04)"><use href="#sL"/><text class="e" x="-256.2" y="2.4">Soil KJ764971.1</text></g>
<g id="tip126" transform="rotate(-9.95)"><use href="#pL"/><text class="e" x="-256.2" y="2.4">P044</text></g>
<g id="tip127" transform="rotate(-7.86)"><use href="#pL"/><text class="e" x="-256.2" y="2.4">P098</text></g>
<g id="tip128" transform="rotate(-5.78)"><use href="#sL"/><text class="e" x="-256.2" y="2.4">Soil KJ764885.1</text></g>
<g id="tip129" transform="rotate(-3.69)"><use href="#sL"/><text class="e" x="-256.2" y="2.4">Soil KJ764889.1</text></g>
<g id="tip130" transform="rotate(-1.61)"><use href="#sL"/><text class="e" x="-256.2" y="2.4">Soil KJ764893.1</text></g>
<g id="tip131" transform="rotate(0.48)"><use href="#sL"/><text class="e" x="-256.2" y="2.4">Soil KJ764891.1</text></g>
<g id="tip132" transform="rotate(2.57)"><use href="#sL"/><text class="e" x="-256.2" y="2.4">Soil KJ764890.1</text></g>
<g id="tip133" transform="rotate(4.65)"><use href="#sL"/><text class="e" x="-256.2" y="2.4">Soil KJ764888.1</text></g>
<g id="tip134" transform="rotate(6.74)"><use href="#sL"/><text class="e" x="-256.2" y="2.4">Soil KJ764894.1</text></g>
<g id="tip135" transform="rotate(8.82)"><use href="#pL"/><text class="e" x="-256.2" y="2.4">P103</text></g>
<g id="tip136" transform="rotate(10.91)"><use href="#pL"/><text class="e" x="-256.2" y="2.4">P143</text></g>
<g id="tip137" transform="rotate(13)"><use href="#sL"/><text class="e" x="-256.2" y="2.4">Soil KJ764980.1</text></g>
<g id="tip138" transform="rotate(15.08)"><use href="#sL"/><text class="e" x="-256.2" y="2.4">Soil KJ764898.1</text></g>
<g id="tip139" transform="rotate(17.17)"><use href="#sL"/><text class="e" x="-256.2" y="2.4">Soil KJ764926.1</text></g>
<g id="tip140" transform="rotate(19.25)"><use href="#sL"/><text class="e" x="-256.2" y="2.4">Soil KJ764979.1</text></g>
<g id="tip141" transform="rotate(21.34)"><use href="#sL"/><text class="e" x="-256.2" y="2.4">Soil KJ764901.1</text></g>
<g id="tip142" transform="rotate(23.43)"><use href="#pL"/><text class="e" x="-256.2" y="2.4">P249</text></g>
<g id="tip143" transform="rotate(25.51)"><use href="#pL"/><text class="e" x="-256.2" y="2.4">P152</text></g>
<g id="tip144" transform="rotate(27.6)"><use href="#pL"/><text class="e" x="-256.2" y="2.4">P136</text></g>
<g id="tip145" transform="rotate(29.68)"><use href="#pL"/><text class="e" x="-256.2" y="2.4">P220</text></g>
<g id="tip146" transform="rotate(31.77)"><use href="#sL"/><text class="e" x="-256.2" y="2.4">Soil KJ764981.1</text></g>
<g id="tip147" transform="rotate(33.86)"><use href="#sL"/><text class="e" x="-256.2" y="2.4">Soil KJ764956.1</text></g>
<g id="tip148" transform="rotate(35.94)"><use href="#pL"/><text class="e" x="-256.2" y="2.4">P099</text></g>
<g id="tip149" transform="rotate(38.03)"><use href="#pL"/><text class="e" x="-256.2" y="2.4">P233</text></g>
<g id="tip150" transform="rotate(40.11)"><use href="#pL"/><text class="e" x="-256.2" y="2.4">P141</text></g>
<g id="tip151" transform="rotate(42.2)"><use href="#pL"/><text class="e" x="-256.2" y="2.4">P270</text></g>
<g id="tip152" transform="rotate(44.29)"><use href="#pL"/><text class="e" x="-256.2" y="2.4">P267</text></g>
<g id="tip153" transform="rotate(46.37)"><use href="#pL"/><text class="e" x="-256.2" y="2.4">P306</text></g>
<g id="tip154" transform="rotate(48.46)"><use href="#pL"/><text class="e" x="-256.2" y="2.4">P029</text></g>
<g id="tip155" transform="rotate(50.54)"><use href="#pL"/><text class="e" x="-256.2" y="2.4">P279</text></g>
<g id="tip156" transform="rotate(52.63)"><use href="#pL"/><text class="e" x="-256.2" y="2.4">P108</text></g>
<g id="tip157" transform="rotate(54.72)"><use href="#pL"/><text class="e" x="-256.2" y="2.4">P245</text></g>
<g id="tip158" transform="rotate(56.8)"><use href="#pL"/><text class="e" x="-256.2" y="2.4">P282</text></g>
<g id="tip159" transform="rotate(58.89)"><use href="#pL"/><text class="e" x="-256.2" y="2.4">P334</text></g>
<g id="tip160" transform="rotate(60.97)"><use href="#pL"/><text class="e" x="-256.2" y="2.4">P227</text></g>
<g id="tip161" transform="rotate(63.06)"><use href="#pL"/><text class="e" x="-256.2" y="2.4">P228</text></g>
<g id="tip162" transform="rotate(65.15)"><use href="#pL"/><text class="e" x="-256.2" y="2.4">P333</text></g>
<g id="tip163" transform="rotate(67.23)"><use href="#pL"/><text class="e" x="-256.2" y="2.4">P236</text></g>
<g id="tip164" transform="rotate(69.32)"><use href="#pL"/><text class="e" x="-256.2" y="2.4">P077</text></g>
<g id="tip165" transform="rotate(71.4)"><use href="#pL"/><text class="e" x="-256.2" y="2.4">P339</text></g>
<g id="tip166" transform="rotate(73.49)"><use href="#pL"/><text class="e" x="-256.2" y="2.4">P328</text></g>
<g id="tip167" transform="rotate(75.58)"><use href="#pL"/><text class="e" x="-256.2" y="2.4">P219</text></g>
<g id="tip168" transform="rotate(77.66)"><use href="#pL"/><text class="e" x="-256.2" y="2.4">P201</text></g>
</g>
</g>
<g id="support" class="b">
<text transform="translate(330 110) rotate(-84)">100</text>
<text transform="translate(358 123) rotate(-75)">100</text>
<text transform="translate(428 95) rotate(-60)">95</text>
<text transform="translate(442 97) rotate(-57)">100</text>
<text transform="translate(467 117) rotate(-50)">100</text>
<text transform="translate(483 142) rotate(-43)">100</text>
<text transform="translate(502 140) rotate(-40)">100</text>
<text transform="translate(507 207) rotate(-26)">83</text>
<text transform="translate(552 272) rotate(-8)">99</text>
<text transform="translate(542 303)">93</text>
<text transform="translate(550 327) rotate(5)">100</text>
<text transform="translate(545 369) rotate(15)">97</text>
<text transform="translate(538 395) rotate(22)">96</text>
<text transform="translate(528 420) rotate(28)">92</text>
<text transform="translate(520 443) rotate(34)">100</text>
<text transform="translate(452 462) rotate(48)">87</text>
<text transform="translate(485 483) rotate(46)">100</text>
<text transform="translate(472 497) rotate(50)">100</text>
<text transform="translate(432 478) rotate(55)">87</text>
<text transform="translate(450 515) rotate(57)">99</text>
<text transform="translate(418 522) rotate(63)">94</text>
<text transform="translate(410 538) rotate(67)">95</text>
<text transform="translate(369 545) rotate(77)">94</text>
<text transform="translate(364 554) rotate(78)">100</text>
<text transform="translate(317 530) rotate(88)">80</text>
<text transform="translate(298 535) rotate(-87)">81</text>
<text transform="translate(288 540) rotate(-85)">98</text>
<text transform="translate(240 540) rotate(-73.5)">100</text>
<text transform="translate(223 538) rotate(-70)">99</text>
<text transform="translate(208 520) rotate(-65)">93</text>
<text transform="translate(198 522) rotate(-63)">92</text>
<text transform="translate(190 527) rotate(-62)">95</text>
<text transform="translate(195 485) rotate(-57.6)">100</text>
<text transform="translate(188 462) rotate(-52)">99</text>
<text transform="translate(163 482) rotate(-50.5)">99</text>
<text transform="translate(133 425) rotate(-34)">100</text>
<text transform="translate(102 437) rotate(-32.5)">100</text>
<text transform="translate(110 403) rotate(-26)">88</text>
<text transform="translate(107 388) rotate(-22.5)">100</text>
<text transform="translate(97 367) rotate(-16)">100</text>
<text transform="translate(70 338) rotate(-8)">100</text>
<text transform="translate(107 323) rotate(-5)">83</text>
<text transform="translate(83 308) rotate(-1)">100</text>
<text transform="translate(85 317) rotate(-3)">99</text>
<text transform="translate(88 263) rotate(10)">100</text>
<text transform="translate(75 225) rotate(19)">94</text>
<text transform="translate(95 192) rotate(15)">94</text>
<text transform="translate(97 200) rotate(15)">82</text>
<text transform="translate(118 178) rotate(33)">97</text>
<text transform="translate(127 163) rotate(37.5)">98</text>
<text transform="translate(193 192) rotate(50)">100</text>
<text transform="translate(197 200) rotate(50)">94</text>
</g>
<g id="titles" class="h">
<g id="title-padanus"><text class="i" x="147" y="53" text-anchor="end">S. padanus</text><text x="147" y="77" text-anchor="end">clade</text></g>
<g id="title-scopuliridis"><text class="i" x="395" y="18">S. scopuliridis</text><text x="395" y="39">clade</text></g>
<g id="title-cellostaticus"><text class="i" x="355" y="636" text-anchor="end">S. cellostaticus</text><text x="355" y="655" text-anchor="end">clade</text></g>
</g>
<g id="legend">
<g id="legend-od"><rect x="475" y="605" width="22" height="8.5" fill="#ffff4d" stroke="#111" stroke-width="1.2"/><text class="h i" x="501" y="615" style="font-size:18px">O. disjunctus</text></g>
<g id="legend-soil"><rect x="475" y="636" width="22" height="8" fill="#a9a9a9" stroke="#111" stroke-width="1.2"/><text class="h" x="501" y="644" style="font-size:18px">Soil</text></g>
</g>
</svg>
